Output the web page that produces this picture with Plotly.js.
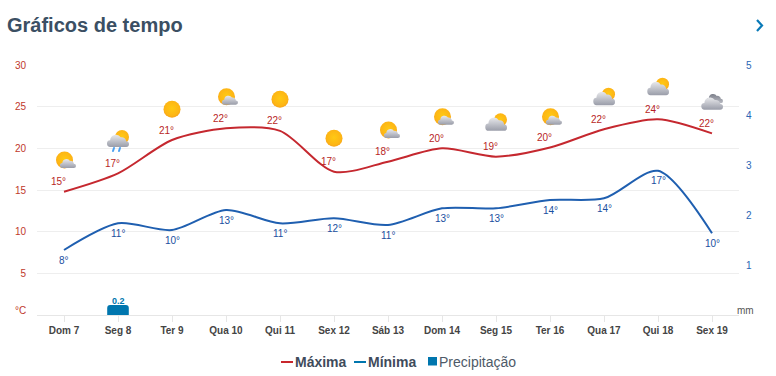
<!DOCTYPE html>
<html>
<head>
<meta charset="utf-8">
<script src="https://cdn.plot.ly/plotly-3.0.1.min.js"></script>
<style>html,body{margin:0;padding:0;background:#fff;overflow:hidden}#chart{width:776px;height:376px}</style>
</head>
<body>
<div id="chart"></div>
<script>
var days = ['Dom 7','Seg 8','Ter 9','Qua 10','Qui 11','Sex 12','Sáb 13','Dom 14','Seg 15','Ter 16','Qua 17','Qui 18','Sex 19'];
var maxCurve = [14.8,17.0,21.0,22.4,22.1,17.2,18.4,20.0,19.0,20.1,22.3,23.5,21.8];
var minCurve = [7.8,11.0,10.2,12.6,11.0,11.6,10.8,12.8,12.8,13.8,14.0,17.3,9.8];
var maxLabels = [15,17,21,22,22,17,18,20,19,20,22,24,22];
var minLabels = [8,11,10,13,11,12,11,13,13,14,14,17,10];
var precip = [0,0.2,0,0,0,0,0,0,0,0,0,0,0];
var iconKinds = ['partly','rain','sun','partly','sun','sun','partly','partly','partlyLow','partly','cloudSun','cloudSun','cloud'];
var iconLevels = [18.6,21.0,24.7,26.2,25.9,21.2,22.2,23.8,23.0,23.8,26.2,27.4,25.6];

var RED = '#c5282f', BLUE = '#1f5fb0', BAR = '#0076ae';
var RED_LABEL = '#b81f26', BLUE_LABEL = '#1a4fa0';

var defs = '<defs>'+
 '<radialGradient id="s" cx="50%" cy="45%" r="55%"><stop offset="0" stop-color="#ffc913"/><stop offset="0.8" stop-color="#fdb515"/><stop offset="1" stop-color="#f6a21a"/></radialGradient>'+
 '<linearGradient id="c" x1="0" y1="0" x2="0" y2="1"><stop offset="0" stop-color="#e8e9ec"/><stop offset="1" stop-color="#9a9da9"/></linearGradient>'+
 '<linearGradient id="d" x1="0" y1="0" x2="0" y2="1"><stop offset="0" stop-color="#7d808b"/><stop offset="1" stop-color="#b8bac2"/></linearGradient>'+
 '</defs>';
var sun = function(cx,cy,r){return '<circle cx="'+cx+'" cy="'+cy+'" r="'+r+'" fill="url(#s)"/>';};
var cloud = function(x,y,w,fill,stretch){
  var k=w/22, ky=k*(stretch||1);
  return '<path transform="translate('+x+' '+y+') scale('+k+' '+ky+')" fill="'+(fill||'url(#c)')+'" d="M3 0 A3.5 3.5 0 0 1 2.5 -7 A6 6 0 0 1 13.5 -10 A4.5 4.5 0 0 1 19 -6 A3 3 0 0 1 19 0 Z"/>';
};
var iconBody = {
  sun: sun(13,13,8.5),
  partly: sun(13.5,13,8.5)+cloud(9.5,21,15.5),
  partlyLow: sun(17.5,9.5,6.5)+cloud(3,20.5,21,null,1.1),
  rain: sun(17,10,7)+cloud(2.7,20,21.3)+'<path stroke="#4aa0f0" stroke-width="2" stroke-linecap="round" d="M9 21 L8 24 M15 21 L14 24"/>',
  cloudSun: sun(17.5,10.5,6.5)+cloud(3,21.5,21,null,1.1),
  cloud: cloud(8,14.5,16,'url(#d)')+cloud(3,21,21)
};
function iconUri(kind){
  var svg='<svg xmlns="http://www.w3.org/2000/svg" width="26" height="26" viewBox="0 0 26 26">'+defs+iconBody[kind]+'</svg>';
  return 'data:image/svg+xml;charset=utf-8,'+encodeURIComponent(svg);
}

var traces = [
 {type:'bar',x:days,y:precip,yaxis:'y2',width:0.4,marker:{color:BAR,cornerradius:3},showlegend:false,hoverinfo:'skip'},
 {type:'scatter',mode:'lines',x:days,y:maxCurve,line:{color:RED,width:2,shape:'spline',smoothing:0.8},showlegend:false,hoverinfo:'skip'},
 {type:'scatter',mode:'lines',x:days,y:minCurve,line:{color:BLUE,width:2,shape:'spline',smoothing:0.8},showlegend:false,hoverinfo:'skip'}
];

var annotations = [];
days.forEach(function(d,i){
  annotations.push({x:d,y:maxCurve[i],yref:'y',xref:'x',xshift:-5.5,yshift:10,text:maxLabels[i]+'°',showarrow:false,font:{size:10,color:RED_LABEL}});
  annotations.push({x:d,y:minCurve[i],yref:'y',xref:'x',yshift:-10,text:minLabels[i]+'°',showarrow:false,font:{size:10,color:BLUE_LABEL}});
  if(precip[i]>0) annotations.push({x:d,y:precip[i],yref:'y2',xref:'x',yshift:4,text:'<b>'+precip[i]+'</b>',showarrow:false,font:{size:9,color:BAR}});
});
function px(x){return (x-37)/702;}
function py(y){return (315-y)/250;}
function note(text,x,y,anchor,font){annotations.push({xref:'paper',yref:'paper',x:px(x),y:py(y),xanchor:anchor,yanchor:'middle',text:text,showarrow:false,font:font,borderpad:0,borderwidth:0});}
note('<b>Gráficos de tempo</b>',7,25,'left',{size:20,color:'#3b4f63'});
note('°C',15,310,'left',{size:10,color:'#c0392b'});
note('mm',737,310,'left',{size:10,color:'#555'});
note('<b>Máxima</b>',295,362,'left',{size:14,color:'#3f4b5b'});
note('<b>Mínima</b>',368,362,'left',{size:14,color:'#3f4b5b'});
note('Precipitação',439,362,'left',{size:14,color:'#4e5a68'});

var shapes = [
 {type:'line',xref:'paper',yref:'paper',x0:px(281),x1:px(293),y0:py(362),y1:py(362),line:{color:'#c8262c',width:2}},
 {type:'line',xref:'paper',yref:'paper',x0:px(354),x1:px(366),y0:py(362),y1:py(362),line:{color:BAR,width:2}},
 {type:'rect',xref:'paper',yref:'paper',x0:px(428),x1:px(437),y0:py(365.5),y1:py(357),line:{width:0},fillcolor:BAR},
 {type:'path',xref:'paper',yref:'paper',line:{color:'#0a7ab8',width:2.2},
  path:'M '+px(757)+' '+py(20)+' L '+px(762)+' '+py(25.5)+' L '+px(757)+' '+py(31)}
];

var images = iconKinds.map(function(k,i){
  return {source:iconUri(k),xref:'x',yref:'y',x:days[i],y:iconLevels[i],sizex:26/54,sizey:26/8.333,xanchor:'center',yanchor:'middle',sizing:'contain',layer:'above'};
});

var layout = {
  width:776,height:376,
  margin:{l:37,r:37,t:65,b:61,pad:0},
  paper_bgcolor:'#fff',plot_bgcolor:'#fff',
  font:{family:'"Liberation Sans",Arial,sans-serif'},
  showlegend:false,
  xaxis:{type:'category',categoryorder:'array',categoryarray:days,range:[-0.5,12.5],showgrid:false,zeroline:false,showline:false,
    ticks:'outside',ticklen:6,tickcolor:'#e6e6e6',tickwidth:1,tickfont:{size:10,color:'#444'},tickprefix:'<b>',ticksuffix:'</b>'},
  yaxis:{range:[0,30],tickvals:[5,10,15,20,25,30],gridcolor:'#eeeeee',gridwidth:1,zeroline:true,zerolinecolor:'#e6e6e6',zerolinewidth:1,showline:false,
    ticks:'outside',ticklen:8,tickcolor:'rgba(0,0,0,0)',tickfont:{size:10,color:'#c0392b'}},
  yaxis2:{overlaying:'y',side:'right',range:[0,5],tickvals:[1,2,3,4,5],showgrid:false,zeroline:false,showline:false,
    ticks:'outside',ticklen:4,tickcolor:'rgba(0,0,0,0)',tickfont:{size:10,color:'#2a66b5'}},
  annotations:annotations,shapes:shapes,images:images,bargap:0.6
};
Plotly.newPlot('chart',traces,layout,{displayModeBar:false,staticPlot:true});
</script>
</body>
</html>
